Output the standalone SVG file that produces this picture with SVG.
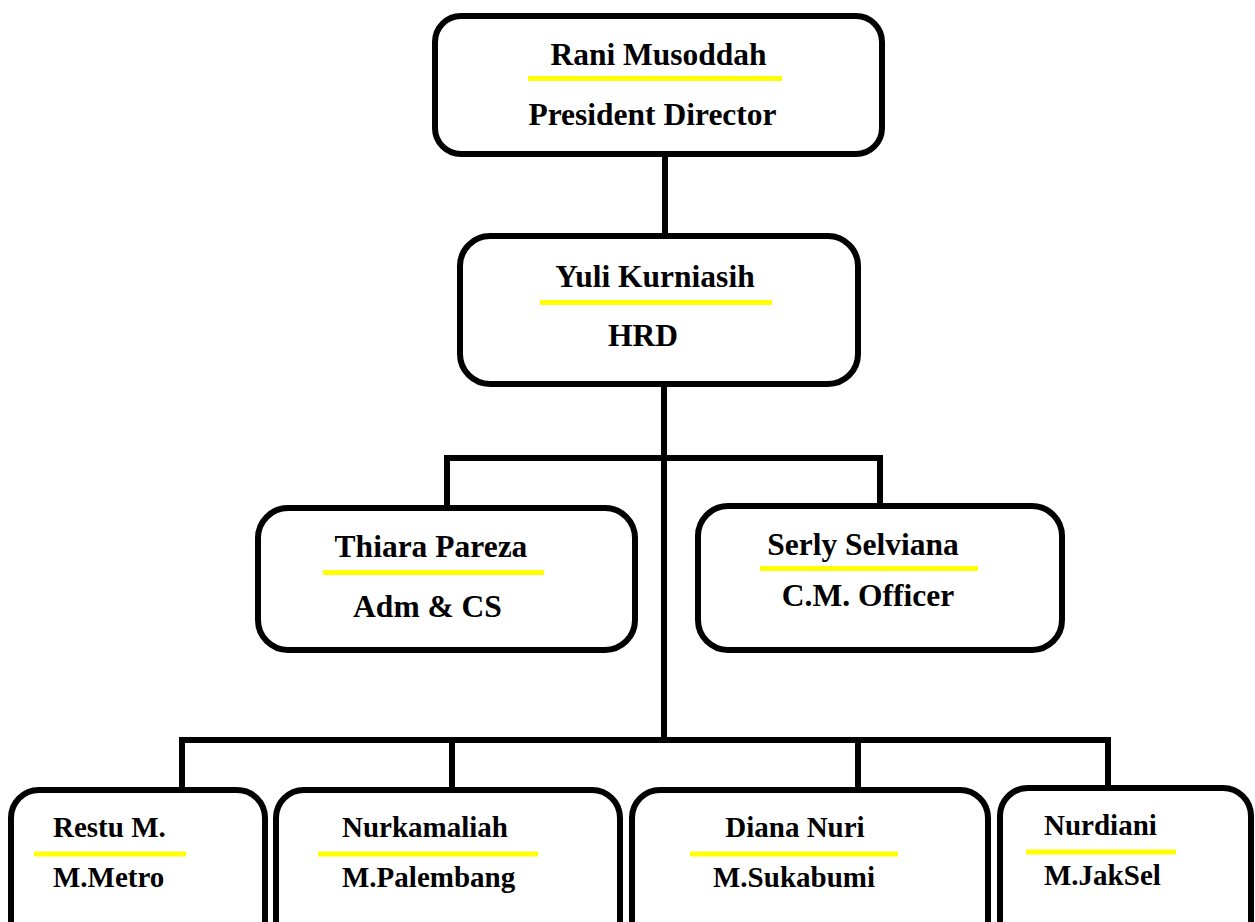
<svg xmlns="http://www.w3.org/2000/svg" width="1255" height="922" viewBox="0 0 1255 922">
<style>
.box{fill:#fff;stroke:#000;stroke-width:6}
.con{fill:none;stroke:#000;stroke-width:6}
.hl{stroke:#ffff00;stroke-width:5}
.t{font-family:"Liberation Serif","Times New Roman",serif;font-weight:bold;font-size:31.5px;fill:#000}
.m{text-anchor:middle}
.s{font-size:29px}
</style>
<rect width="1255" height="922" fill="#fff"/>
<g id="connectors">
<path class="con" d="M665 154V236"/>
<path class="con" d="M664 384V740"/>
<path class="con" d="M447 508V458H880V506"/>
<path class="con" d="M182 790V740H1108V788"/>
<path class="con" d="M452 740V790"/>
<path class="con" d="M858 740V790"/>
</g>
<g id="president">
<rect class="box" x="435" y="16" width="447" height="138" rx="26"/>
<line class="hl" x1="528" y1="78.5" x2="782" y2="78.5"/>
<text class="t m" x="658.5" y="65">Rani Musoddah</text>
<text class="t m" x="652.5" y="125">President Director</text>
</g>
<g id="hrd">
<rect class="box" x="460" y="236" width="398" height="148" rx="30"/>
<line class="hl" x1="540" y1="302.5" x2="772" y2="302.5"/>
<text class="t m" x="655" y="287">Yuli Kurniasih</text>
<text class="t m" x="643" y="346">HRD</text>
</g>
<g id="thiara">
<rect class="box" x="258" y="508" width="377" height="142" rx="30"/>
<line class="hl" x1="323" y1="572.5" x2="544" y2="572.5"/>
<text class="t m" x="431" y="557">Thiara Pareza</text>
<text class="t m" x="427.5" y="617">Adm &amp; CS</text>
</g>
<g id="serly">
<rect class="box" x="698" y="506" width="364" height="144" rx="30"/>
<line class="hl" x1="760" y1="568.5" x2="978" y2="568.5"/>
<text class="t m" x="863" y="555">Serly Selviana</text>
<text class="t m" x="868" y="606">C.M. Officer</text>
</g>
<g id="restu">
<rect class="box" x="11" y="790" width="254" height="165" rx="28"/>
<line class="hl" x1="34" y1="854" x2="186" y2="854"/>
<text class="t s" x="53" y="837">Restu M.</text>
<text class="t s" x="53" y="887">M.Metro</text>
</g>
<g id="nurkamaliah">
<rect class="box" x="276" y="790" width="344" height="165" rx="28"/>
<line class="hl" x1="318" y1="854" x2="538" y2="854"/>
<text class="t s" x="342" y="837">Nurkamaliah</text>
<text class="t s" x="342" y="887">M.Palembang</text>
</g>
<g id="diana">
<rect class="box" x="632" y="790" width="356" height="165" rx="28"/>
<line class="hl" x1="690" y1="854" x2="898" y2="854"/>
<text class="t s m" x="795" y="837">Diana Nuri</text>
<text class="t s m" x="794" y="887">M.Sukabumi</text>
</g>
<g id="nurdiani">
<rect class="box" x="1000" y="788" width="251" height="167" rx="28"/>
<line class="hl" x1="1026" y1="852" x2="1176" y2="852"/>
<text class="t s" x="1044" y="835">Nurdiani</text>
<text class="t s" x="1044" y="885">M.JakSel</text>
</g>
</svg>
